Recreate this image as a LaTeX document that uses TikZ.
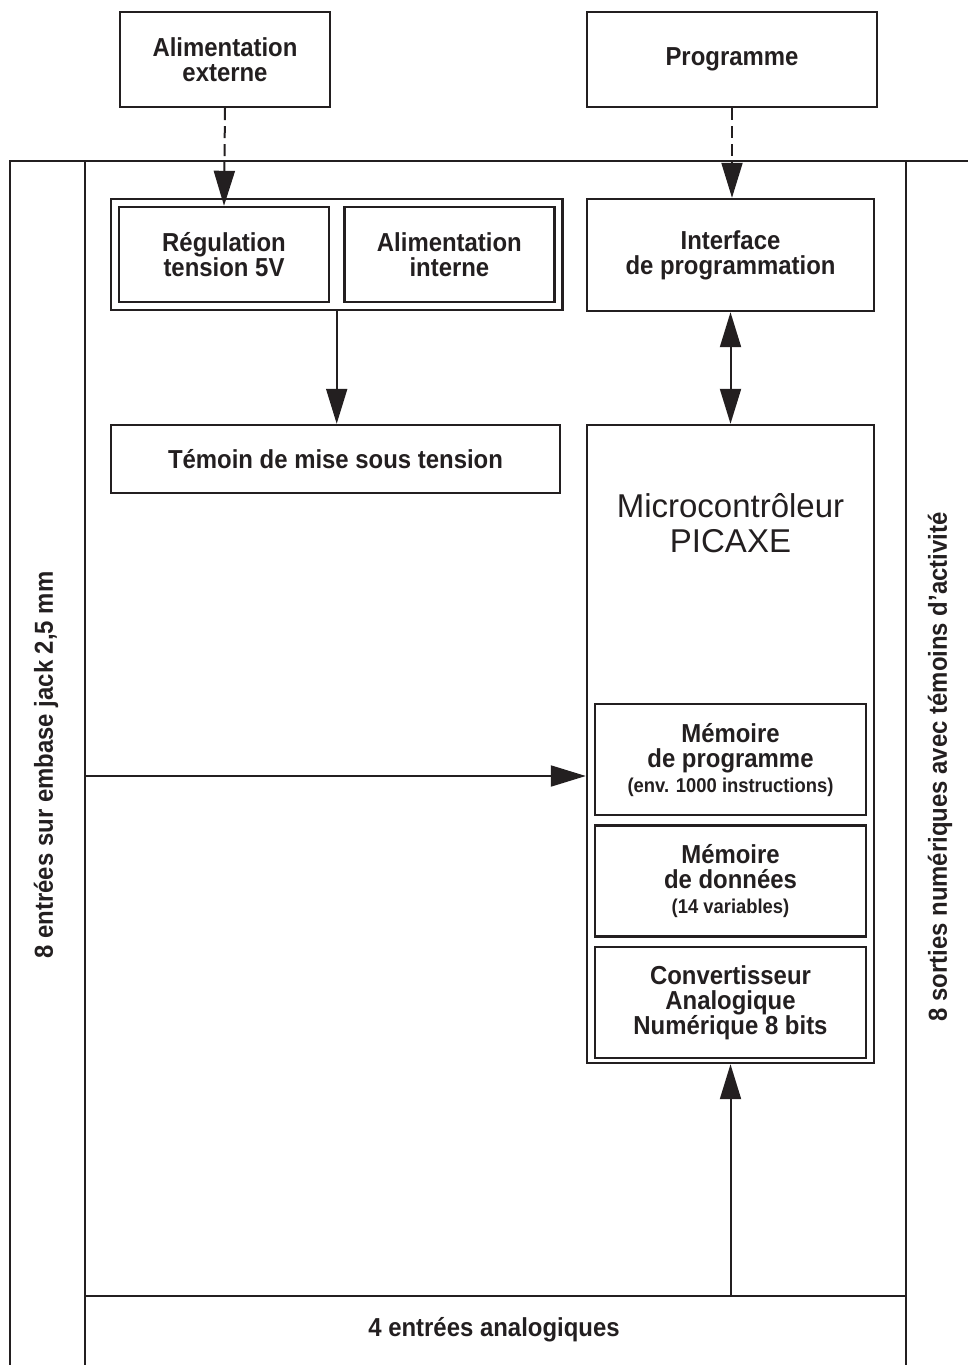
\documentclass[tikz,border=0pt]{standalone}
\usepackage{fontspec}
\setmainfont[FakeStretch=0.92]{Liberation Sans}
\newfontfamily\widesans{Liberation Sans}
\usetikzlibrary{arrows.meta,positioning,fit}
\definecolor{InkGray}{HTML}{231F20}

\begin{document}
\begin{tikzpicture}[x=1pt,y=-1pt,
  node distance=8pt,
  box/.style={draw=InkGray,line width=2.4pt,inner sep=0pt,align=center,text=InkGray,font=\fontsize{26}{25}\selectfont\bfseries},
  zone/.style={draw=InkGray,line width=2.4pt,inner sep=0pt,anchor=north west},
  tag/.style={text=InkGray,inner sep=0pt,font=\fontsize{26}{25}\selectfont\bfseries},
  arr/.style={-{Triangle[length=35pt,width=21pt]},draw=InkGray,line width=2pt},
  dasharr/.style={arr,dash pattern=on 12pt off 6pt}
]
\useasboundingbox (0,0) rectangle (968,1365);
\clip (0,0) rectangle (968,1365);
% board and its three edges
\node[zone,minimum width=821pt,minimum height=1135pt] (board) at (84,160) {};
\node[zone,minimum width=75pt,minimum height=1260pt] (inputs) at (9,160) {};
\node[zone,minimum width=120pt,minimum height=1260pt] (outputs) at (905,160) {};
\node[zone,minimum width=821pt,minimum height=120pt] (analog) at (84,1295) {};
\node[tag,rotate=90] (inlabel) at (46,765) {8 entrées sur embase jack 2,5 mm};
\node[tag,rotate=90] (outlabel) at (940,767) {8 sorties numériques avec témoins d’activité};
\node[tag] (anlabel) at (494,1330) {4 entrées analogiques};
% outside the board
\node[box,minimum width=210pt,minimum height=95pt] (ext) at (225,59.5) {Alimentation\\externe};
\node[box,minimum width=290pt,minimum height=95pt] (prog) at (732,59.5) {Programme};
% power supply
\node[box,minimum width=210pt,minimum height=95pt] (reg) at (224,254.5) {Régulation\\tension 5V};
\node[box,minimum width=210pt,minimum height=95pt,right=13pt of reg] (intern) {Alimentation\\interne};
\node[draw=InkGray,line width=2.4pt,inner sep=7pt,fit=(reg)(intern)] (power) {};
\node[box,minimum width=449pt,minimum height=68pt] (temoin) at (335.5,459) {Témoin de mise sous tension};
% microcontroller
\node[box,minimum width=287pt,minimum height=112pt] (iface) at (730.5,255) {Interface\\de programmation};
\node[box,minimum width=287pt,minimum height=638pt] (mcu) at (730.5,744) {};
\node[text=InkGray,align=center,inner sep=0pt,font=\widesans\fontsize{33}{35}\selectfont] (mcutitle) at ([yshift=-99pt]mcu.north) {Microcontrôleur\\PICAXE};
\node[box,minimum width=271pt,minimum height=111pt,anchor=north] (mem1) at (730.5,703) {Mémoire\\de programme\\{\fontsize{20}{22}\selectfont (env. 1000 instructions)}};
\node[box,minimum width=271pt,minimum height=111pt,below=of mem1] (mem2) {Mémoire\\de données\\{\fontsize{20}{22}\selectfont (14 variables)}};
\node[box,minimum width=271pt,minimum height=111pt,below=of mem2] (mem3) {Convertisseur\\Analogique\\Numérique 8 bits};
\coordinate (inlink) at (84,776);
% links
\draw[dasharr] (ext.south) -- (reg.north);
\draw[dasharr] (prog.south) -- (prog.south |- iface.north);
\draw[arr] (power.south) -- (power.south |- temoin.north);
\draw[arr,{Triangle[length=35pt,width=21pt]}-{Triangle[length=35pt,width=21pt]}] (iface.south) -- (mcu.north);
\draw[arr] (inlink) -- (inlink -| mcu.west);
\draw[arr] (mcu.south |- analog.north) -- (mcu.south);
\end{tikzpicture}
\end{document}
